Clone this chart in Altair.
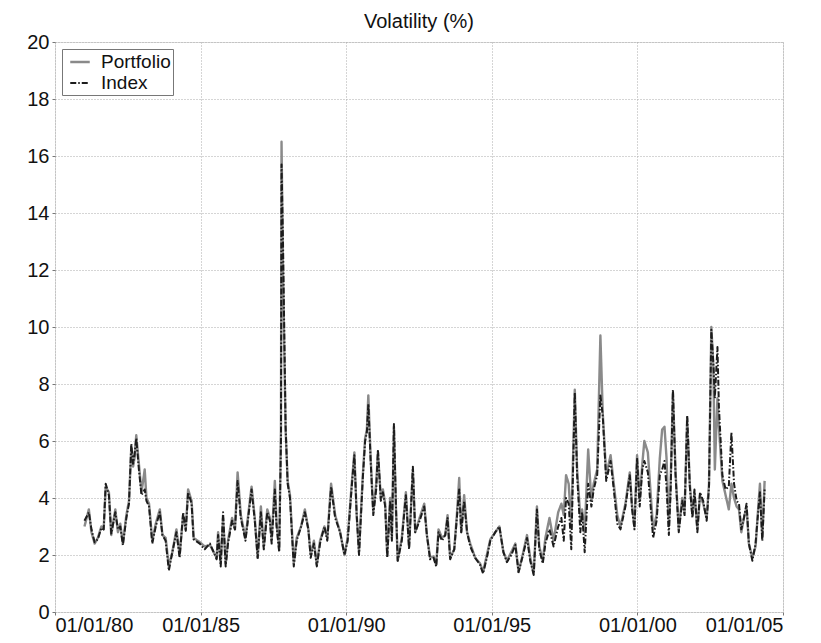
import altair as alt
import pandas as pd

# decimal years of readings
years = [
    1981.01, 1981.16, 1981.25, 1981.36, 1981.47, 1981.59, 1981.67, 1981.74, 1981.85, 1981.93,
    1982.07, 1982.16, 1982.24, 1982.33, 1982.45, 1982.54, 1982.62, 1982.68, 1982.73, 1982.79,
    1982.88, 1982.97, 1983.08, 1983.14, 1983.23, 1983.34, 1983.46, 1983.60, 1983.69, 1983.80,
    1983.91, 1984.03, 1984.17, 1984.28, 1984.40, 1984.49, 1984.57, 1984.69, 1984.76, 1984.97,
    1985.14, 1985.32, 1985.55, 1985.60, 1985.69, 1985.77, 1985.86, 1985.94, 1986.08, 1986.18,
    1986.27, 1986.38, 1986.54, 1986.75, 1986.86, 1986.96, 1987.07, 1987.17, 1987.29, 1987.38,
    1987.44, 1987.55, 1987.61, 1987.70, 1987.76, 1987.78, 1987.83, 1987.92, 1987.99, 1988.07,
    1988.20, 1988.30, 1988.45, 1988.58, 1988.70, 1988.78, 1988.89, 1988.99, 1989.10, 1989.25,
    1989.35, 1989.48, 1989.62, 1989.79, 1989.94, 1990.05, 1990.19, 1990.28, 1990.36, 1990.44,
    1990.57, 1990.65, 1990.71, 1990.76, 1990.84, 1990.93, 1991.03, 1991.09, 1991.19, 1991.26,
    1991.34, 1991.41, 1991.51, 1991.57, 1991.64, 1991.71, 1991.77, 1991.91, 1992.05, 1992.16,
    1992.29, 1992.37, 1992.52, 1992.68, 1992.77, 1992.88, 1993.00, 1993.09, 1993.17, 1993.29,
    1993.40, 1993.48, 1993.57, 1993.71, 1993.80, 1993.88, 1993.95, 1994.05, 1994.15, 1994.26,
    1994.43, 1994.60, 1994.70, 1994.83, 1994.95, 1995.12, 1995.26, 1995.40, 1995.52, 1995.67,
    1995.81, 1995.92, 1996.06, 1996.21, 1996.32, 1996.44, 1996.55, 1996.63, 1996.75, 1996.84,
    1996.98, 1997.12, 1997.28, 1997.39, 1997.47, 1997.55, 1997.64, 1997.73, 1997.85, 1997.93,
    1998.04, 1998.10, 1998.19, 1998.31, 1998.42, 1998.50, 1998.62, 1998.73, 1998.81, 1998.93,
    1999.08, 1999.19, 1999.31, 1999.42, 1999.59, 1999.74, 1999.82, 1999.90, 1999.99, 2000.08,
    2000.17, 2000.24, 2000.36, 2000.48, 2000.54, 2000.66, 2000.77, 2000.85, 2000.93, 2001.00,
    2001.08, 2001.14, 2001.22, 2001.31, 2001.42, 2001.54, 2001.62, 2001.71, 2001.80, 2001.89,
    2001.96, 2002.06, 2002.15, 2002.26, 2002.38, 2002.46, 2002.54, 2002.61, 2002.66, 2002.75,
    2002.80, 2002.92, 2003.03, 2003.14, 2003.23, 2003.32, 2003.41, 2003.49, 2003.57, 2003.66,
    2003.75, 2003.83, 2003.95, 2004.06, 2004.14, 2004.21, 2004.29, 2004.37,
]

portfolio = [
    3.0, 3.6, 2.8, 2.4, 2.6, 3.0, 2.9, 4.4, 4.2, 2.7,
    3.6, 2.8, 3.1, 2.4, 3.4, 3.9, 5.8, 5.1, 5.4, 6.2,
    5.2, 4.2, 5.0, 4.0, 3.8, 2.5, 3.1, 3.6, 2.7, 2.6,
    1.6, 2.1, 2.9, 2.0, 3.4, 2.9, 4.3, 3.9, 2.6, 2.45,
    2.3, 2.35, 1.9, 2.8, 1.7, 3.3, 1.7, 2.5, 3.3, 2.9,
    4.9, 3.4, 2.6, 4.4, 3.3, 1.9, 3.7, 2.3, 3.6, 3.3,
    2.5, 4.6, 3.1, 2.2, 6.4, 16.5, 12.0, 6.4, 4.6, 4.1,
    1.7, 2.6, 3.0, 3.6, 2.9, 2.0, 2.5, 1.65, 2.5, 3.0,
    2.6, 4.5, 3.4, 2.8, 2.0, 2.6, 4.5, 5.6, 3.4, 2.1,
    4.8, 6.1, 6.4, 7.6, 5.4, 3.5, 4.5, 5.6, 4.0, 4.3,
    3.8, 2.0, 4.0, 2.6, 6.5, 3.6, 1.8, 2.6, 4.2, 2.3,
    5.0, 2.8, 3.3, 3.8, 2.7, 1.9, 1.95, 1.65, 2.9, 2.6,
    2.7, 3.4, 1.9, 2.2, 3.4, 4.7, 2.8, 4.1, 2.8, 2.4,
    1.9, 1.7, 1.4, 2.0, 2.55, 2.8, 3.0, 2.1, 1.8, 2.1,
    2.4, 1.4, 2.0, 2.7, 1.9, 1.35, 3.7, 2.3, 1.8, 2.6,
    3.3, 2.5, 3.5, 3.8, 3.4, 4.8, 4.5, 3.0, 7.8, 5.0,
    3.3, 3.6, 2.8, 5.7, 3.9, 4.5, 5.0, 9.7, 7.0, 4.8,
    5.5, 4.5, 3.4, 3.0, 3.8, 4.9, 3.7, 3.0, 5.5, 3.9,
    5.2, 6.0, 5.6, 3.8, 2.9, 3.4, 5.4, 6.4, 6.5, 5.4,
    3.0, 4.5, 7.7, 4.9, 2.9, 4.0, 3.5, 6.8, 4.5, 3.4,
    4.2, 2.9, 4.1, 3.8, 3.3, 4.5, 10.0, 8.6, 5.0, 7.5,
    6.5, 4.6, 4.1, 3.6, 4.5, 4.0, 3.7, 3.6, 2.8, 3.3,
    3.7, 2.4, 1.9, 2.3, 3.5, 4.5, 2.6, 4.6,
]

index = [
    3.2, 3.5, 2.9, 2.45, 2.55, 2.95, 2.9, 4.5, 4.1, 2.75,
    3.5, 2.9, 3.0, 2.35, 3.3, 3.8, 5.9, 5.2, 5.5, 6.1,
    5.0, 4.1, 4.3, 3.9, 3.7, 2.4, 3.0, 3.5, 2.7, 2.5,
    1.45, 2.1, 2.8, 1.9, 3.5, 2.85, 4.2, 3.8, 2.55, 2.4,
    2.2, 2.4, 1.85, 2.7, 1.6, 3.5, 1.6, 2.4, 3.2, 2.9,
    4.6, 3.3, 2.5, 4.3, 3.2, 1.9, 3.5, 2.2, 3.5, 3.2,
    2.4, 4.3, 3.0, 2.1, 6.0, 15.7, 13.0, 6.5, 4.5, 4.0,
    1.6, 2.5, 3.0, 3.5, 2.9, 1.9, 2.4, 1.6, 2.4, 3.0,
    2.5, 4.4, 3.3, 2.8, 2.0, 2.5, 4.4, 5.5, 3.4, 2.0,
    4.7, 6.0, 6.3, 7.3, 5.3, 3.4, 4.3, 5.7, 3.9, 4.2,
    3.7, 1.9, 3.9, 2.5, 6.6, 3.7, 1.8, 2.5, 4.1, 2.2,
    5.1, 2.8, 3.2, 3.7, 2.7, 1.85, 1.9, 1.6, 2.8, 2.5,
    2.7, 3.3, 1.85, 2.2, 3.3, 4.3, 2.8, 3.9, 2.8, 2.3,
    1.9, 1.65, 1.35, 1.9, 2.5, 2.8, 3.0, 2.1, 1.75, 2.0,
    2.35, 1.4, 1.95, 2.6, 1.8, 1.3, 3.6, 2.2, 1.7, 2.4,
    2.9, 2.3, 3.0, 3.3, 2.5, 4.0, 3.8, 2.2, 7.7, 4.8,
    2.8, 3.5, 2.1, 4.5, 3.7, 4.3, 4.8, 7.6, 6.9, 4.6,
    5.3, 4.3, 3.1, 2.9, 3.7, 4.8, 3.6, 2.9, 5.4, 3.7,
    5.0, 5.3, 4.9, 3.4, 2.6, 3.2, 4.8, 5.0, 5.3, 4.4,
    2.7, 4.2, 7.8, 4.8, 2.8, 3.9, 3.4, 6.9, 4.4, 3.3,
    4.3, 2.8, 4.2, 3.9, 3.2, 4.4, 9.9, 8.7, 7.5, 9.3,
    7.2, 4.8, 4.3, 4.4, 6.3, 4.5, 3.9, 3.8, 2.9, 3.3,
    3.8, 2.4, 1.8, 2.4, 3.4, 4.2, 2.5, 4.3,
]

series_names = ["Portfolio", "Index"]
x_tick_years = [1980, 1985, 1990, 1995, 2000, 2005]
y_ticks = [0, 2, 4, 6, 8, 10, 12, 14, 16, 18, 20]


def to_date(y):
    yr = int(y)
    start = pd.Timestamp(year=yr, month=1, day=1)
    end = pd.Timestamp(year=yr + 1, month=1, day=1)
    return (start + (end - start) * (y - yr)).strftime("%Y-%m-%dT%H:%M:%S")


dates = [to_date(y) for y in years]
df = pd.DataFrame(
    {
        "date": dates * 2,
        "value": portfolio + index,
        "series": ["Portfolio"] * len(dates) + ["Index"] * len(dates),
    }
)

font = "Liberation Sans"

x_enc = alt.X(
    "date:T",
    scale=alt.Scale(domain=[alt.DateTime(year=1980, month=1, date=1),
                            alt.DateTime(year=2005, month=1, date=1)]),
    axis=alt.Axis(
        title=None,
        format="%m/%d/%y",
        values=[alt.DateTime(year=y, month=1, date=1) for y in x_tick_years],
        labelFontSize=20,
        labelFont=font,
        labelColor="#111",
        grid=True,
        gridDash=[1, 2],
        gridColor="#aaaaaa",
        gridWidth=1,
        tickSize=3,
        tickColor="#777",
        domain=False,
        labelPadding=0,
    ),
)
y_enc = alt.Y(
    "value:Q",
    scale=alt.Scale(domain=[0, 20], nice=False),
    axis=alt.Axis(
        title=None,
        values=y_ticks,
        labelFontSize=20,
        labelFont=font,
        labelColor="#111",
        grid=True,
        gridDash=[1, 2],
        gridColor="#aaaaaa",
        gridWidth=1,
        tickSize=3,
        tickColor="#777",
        domain=False,
        labelPadding=3,
    ),
)
color_enc = alt.Color(
    "series:N",
    scale=alt.Scale(domain=series_names, range=["#8a8a8a", "#1c1c1c"]),
    legend=alt.Legend(
        title=None,
        orient="top-left",
        offset=7,
        labelFontSize=19,
        labelFont=font,
        labelColor="#111",
        symbolType="stroke",
        symbolStrokeWidth=2.2,
        symbolSize=380,
        symbolOffset=5,
        strokeColor="#777",
        fillColor="white",
        padding=2,
        rowPadding=0,
        labelOffset=10,
        cornerRadius=0,
    ),
)
dash_enc = alt.StrokeDash(
    "series:N",
    scale=alt.Scale(domain=series_names, range=[[1, 0], [6, 2, 1.5, 2]]),
    legend=alt.Legend(title=None),
)
width_enc = alt.StrokeWidth(
    "series:N",
    scale=alt.Scale(domain=series_names, range=[2.4, 2.0]),
    legend=None,
)

base = alt.Chart(df).mark_line(strokeJoin="round").encode(
    x=x_enc, y=y_enc, color=color_enc, strokeDash=dash_enc, strokeWidth=width_enc
)

layer_p = base.transform_filter(alt.datum.series == "Portfolio")
layer_i = base.transform_filter(alt.datum.series == "Index")

chart = (
    alt.layer(layer_p, layer_i)
    .properties(
        width=728,
        height=570,
        title=alt.TitleParams("Volatility (%)", fontSize=20, font=font, fontWeight="normal",
                              color="#111", offset=0),
        autosize=alt.AutoSizeParams(type="none"),
        padding={"left": 47, "top": 34, "right": 30, "bottom": 23},
    )
    .configure_view(stroke="#666", strokeWidth=1.2)
    .configure(background="white")
)

chart.save("out.html", embed_options={"renderer": "svg", "actions": False})
